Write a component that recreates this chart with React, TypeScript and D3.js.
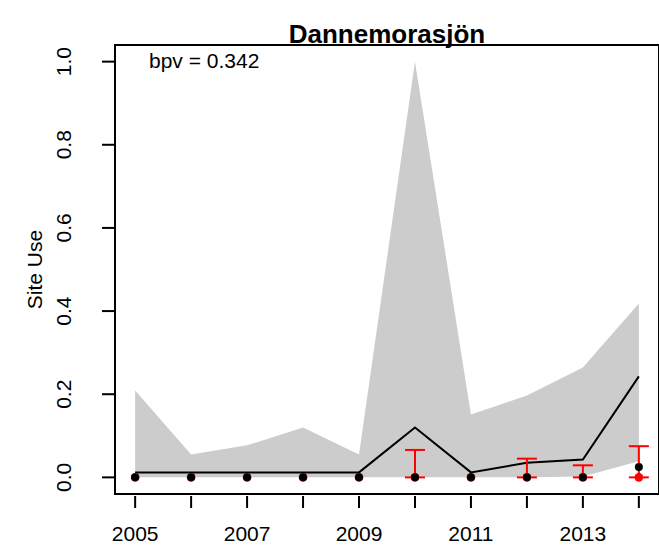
import React from "react";
import * as d3 from "d3";

const years = [2005, 2006, 2007, 2008, 2009, 2010, 2011, 2012, 2013, 2014];
const upperBand = [0.209, 0.055, 0.077, 0.12, 0.055, 1.0, 0.151, 0.197, 0.264, 0.418];
const lowerBand = [0, 0, 0, 0, 0, 0, 0, 0, 0.002, 0.039];
const meanLine = [0.012, 0.012, 0.012, 0.012, 0.012, 0.12, 0.012, 0.035, 0.043, 0.243];
const blackPoints = [0, 0, 0, 0, 0, 0, 0, 0, 0, 0.025];
const redPoints = [0, 0, 0, 0, 0, 0, 0, 0, 0, 0];
const redUpper = [0, 0, 0, 0, 0, 0.066, 0, 0.045, 0.029, 0.075];
const redLower = [0, 0, 0, 0, 0, 0, 0, 0, 0, 0];
const xTickLabels = [2005, 2007, 2009, 2011, 2013];
const yTicks = [0, 0.2, 0.4, 0.6, 0.8, 1.0];
const title = "Dannemorasjön";
const yLabel = "Site Use";
const bpvText = "bpv = 0.342";

const W = 659;
const H = 545;
const left = 115;
const right = 659;
const top = 45;
const bottom = 494;
const FONT = "'Liberation Sans', Arial, sans-serif";

export default function App() {
  const x = d3.scaleLinear().domain([2005 - 0.36, 2014 + 0.36]).range([left, right]);
  const y = d3.scaleLinear().domain([-0.04, 1.04]).range([bottom, top]);

  const area = d3
    .area<number>()
    .x((_, i) => x(years[i]))
    .y0((_, i) => y(lowerBand[i]))
    .y1((d) => y(d));
  const line = d3
    .line<number>()
    .x((_, i) => x(years[i]))
    .y((d) => y(d));

  return (
    <svg
      width={W}
      height={H}
      style={{ position: "absolute", left: 0, top: 0, display: "block" }}
      fontFamily={FONT}
    >
      <rect x={0} y={0} width={W} height={H} fill="#fff" />
      <path d={area(upperBand) || ""} fill="#cccccc" />
      <path d={line(meanLine) || ""} fill="none" stroke="#000" strokeWidth={2} />
      {redPoints.map((v, i) => (
        <circle key={"rp" + i} cx={x(years[i])} cy={y(v)} r={4.3} fill="#ff0000" />
      ))}
      {years.map((yr, i) =>
        redUpper[i] - redLower[i] > 0.001 ? (
          <g key={"eb" + i} stroke="#ff0000" strokeWidth={2}>
            <line x1={x(yr)} x2={x(yr)} y1={y(redLower[i])} y2={y(redUpper[i])} />
            <line x1={x(yr) - 10} x2={x(yr) + 10} y1={y(redUpper[i])} y2={y(redUpper[i])} />
            <line x1={x(yr) - 10} x2={x(yr) + 10} y1={y(redLower[i])} y2={y(redLower[i])} />
          </g>
        ) : null
      )}
      {blackPoints.map((v, i) => (
        <circle key={"bp" + i} cx={x(years[i])} cy={y(v)} r={4} fill="#000" />
      ))}
      {/* box */}
      <rect
        x={left}
        y={top}
        width={right - left}
        height={bottom - top}
        fill="none"
        stroke="#000"
        strokeWidth={2}
      />
      {/* y axis */}
      {yTicks.map((t) => (
        <g key={"yt" + t}>
          <line x1={left - 13} x2={left} y1={y(t)} y2={y(t)} stroke="#000" strokeWidth={2} />
          <text
            transform={`translate(70.5,${y(t)}) rotate(-90)`}
            textAnchor="middle"
            fontSize={21}
            fill="#000"
          >
            {t.toFixed(1)}
          </text>
        </g>
      ))}
      {/* x axis */}
      {years.map((yr) => (
        <line
          key={"xt" + yr}
          x1={x(yr)}
          x2={x(yr)}
          y1={bottom + 2}
          y2={bottom + 14}
          stroke="#000"
          strokeWidth={2}
        />
      ))}
      {xTickLabels.map((yr) => (
        <text key={"xl" + yr} x={x(yr)} y={541} textAnchor="middle" fontSize={21} fill="#000">
          {yr}
        </text>
      ))}
      <text
        transform={`translate(42,${(top + bottom) / 2}) rotate(-90)`}
        textAnchor="middle"
        fontSize={21}
        fill="#000"
      >
        {yLabel}
      </text>
      <text x={(left + right) / 2} y={43} textAnchor="middle" fontSize={26} fontWeight="bold" fill="#000">
        {title}
      </text>
      <text x={149} y={68} fontSize={21} fill="#000">
        {bpvText}
      </text>
    </svg>
  );
}
